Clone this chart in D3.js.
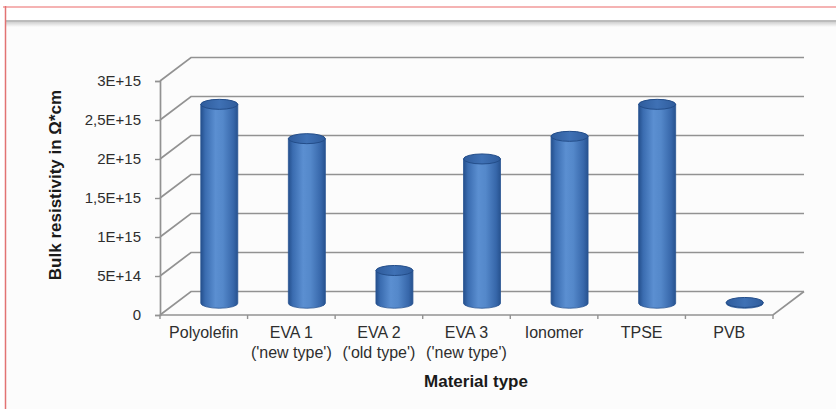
<!DOCTYPE html>
<html>
<head>
<meta charset="utf-8">
<script src="https://cdn.jsdelivr.net/npm/d3@7"></script>
<style>
  html, body { margin: 0; padding: 0; background: #ffffff; }
  svg { display: block; font-family: "Liberation Sans", Arial, sans-serif; }
</style>
</head>
<body>
<svg id="chart" width="836" height="409"></svg>
<script>
// Bulk resistivity per encapsulant material
const categories = ["Polyolefin", "EVA 1|('new type')", "EVA 2|('old type')", "EVA 3|('new type')", "Ionomer", "TPSE", "PVB"];
const resistivity = [2.55e15, 2.11e15, 0.42e15, 1.85e15, 2.14e15, 2.55e15, 0.01e15];
const tickValues = [0, 5e14, 1e15, 1.5e15, 2e15, 2.5e15, 3e15];
const tickLabels = ["0", "5E+14", "1E+15", "1,5E+15", "2E+15", "2,5E+15", "3E+15"];

const svg = d3.select("#chart");

// page frame
svg.append("rect").attr("x", 0).attr("y", 0).attr("width", 836).attr("height", 409).attr("fill", "#ffffff");
svg.append("rect").attr("x", 5).attr("y", 21).attr("width", 831).attr("height", 388).attr("fill", "#fcfcfc");
const defs = svg.append("defs");
const shade = defs.append("linearGradient").attr("id", "topShade").attr("x1", 0).attr("y1", 0).attr("x2", 0).attr("y2", 1);
shade.append("stop").attr("offset", 0).attr("stop-color", "#d0d0d0");
shade.append("stop").attr("offset", 1).attr("stop-color", "#fcfcfc");
svg.append("rect").attr("x", 5).attr("y", 22).attr("width", 831).attr("height", 5).attr("fill", "url(#topShade)");
svg.append("line").attr("x1", 5).attr("x2", 836).attr("y1", 21).attr("y2", 21).attr("stroke", "#a6a6a6").attr("stroke-width", 1.5);
svg.append("line").attr("x1", 3).attr("x2", 836).attr("y1", 7).attr("y2", 7).attr("stroke", "#f29a9a").attr("stroke-width", 1.5);
svg.append("line").attr("x1", 5.5).attr("x2", 5.5).attr("y1", 6).attr("y2", 409).attr("stroke", "#e27373").attr("stroke-width", 1.5);

// 3D box geometry
const dx = 31, dy = -23.5;
const x = d3.scaleBand().domain(categories).range([160, 773]).padding(0);
const y = d3.scaleLinear().domain([0, 3e15]).range([315, 81]);

const gridColor = "#929292";
const grid = svg.append("g").attr("fill", "none").attr("stroke", gridColor).attr("stroke-width", 1.7);

// back wall and side wall gridlines
tickValues.forEach(t => {
  const yy = y(t);
  grid.append("path")
    .attr("d", `M${x.range()[0]},${yy} L${x.range()[0] + dx},${yy + dy} L${x.range()[1] + dx},${yy + dy}`);
});
// floor front edge and right edge
grid.append("path")
  .attr("d", `M${x.range()[0]},${y(0)} L${x.range()[1]},${y(0)} L${x.range()[1] + dx},${y(0) + dy}`);

// value axis
const yAxis = d3.axisLeft(y).tickValues(tickValues).tickSize(5).tickPadding(14)
  .tickFormat((d, i) => tickLabels[i]);
const gy = svg.append("g").attr("transform", `translate(${x.range()[0]},0)`).call(yAxis);
gy.select(".domain").attr("stroke", gridColor).attr("stroke-width", 1.7);
gy.selectAll(".tick line").attr("stroke", gridColor).attr("stroke-width", 1.4);
gy.selectAll(".tick text").attr("font-size", 15).attr("fill", "#2e2e2e")
  .attr("font-family", "Liberation Sans, Arial, sans-serif");

// category axis ticks
const gx = svg.append("g");
x.domain().concat(["end"]).forEach((c, i) => {
  const xx = x.range()[0] + i * x.bandwidth();
  gx.append("line").attr("x1", xx).attr("x2", xx).attr("y1", y(0)).attr("y2", y(0) + 4)
    .attr("stroke", gridColor).attr("stroke-width", 1.4);
});
categories.forEach(c => {
  const lines = c.split("|");
  const t = gx.append("text")
    .attr("x", x(c) + x.bandwidth() / 2)
    .attr("y", 338)
    .attr("text-anchor", "middle")
    .attr("font-size", 16)
    .attr("fill", "#2e2e2e");
  lines.forEach((ln, k) => {
    t.append("tspan").attr("x", x(c) + x.bandwidth() / 2).attr("dy", k === 0 ? 0 : 20).text(ln);
  });
});

// cylinder shading
const body = defs.append("linearGradient").attr("id", "cylBody").attr("x1", 0).attr("y1", 0).attr("x2", 1).attr("y2", 0);
[[0, "#244f8c"], [0.12, "#3a6cb0"], [0.4, "#5b8fd1"], [0.6, "#5488ca"], [0.88, "#3767aa"], [1, "#27528f"]]
  .forEach(([o, c]) => body.append("stop").attr("offset", o).attr("stop-color", c));
const cap = defs.append("linearGradient").attr("id", "cylCap").attr("x1", 0).attr("y1", 0).attr("x2", 1).attr("y2", 0);
[[0, "#2f5c9c"], [0.5, "#3f71b5"], [1, "#2f5c9c"]]
  .forEach(([o, c]) => cap.append("stop").attr("offset", o).attr("stop-color", c));

const rx = 18.5, ry = 5;
const bars = svg.append("g");
categories.forEach((c, i) => {
  const v = resistivity[i];
  const cx = x(c) + x.bandwidth() / 2 + dx / 2;
  const yb = y(0) + dy / 2;
  const yt = y(v) + dy / 2;
  const g = bars.append("g");
  g.append("path")
    .attr("d", `M${cx - rx},${yt} L${cx - rx},${yb} A${rx},${ry} 0 0 0 ${cx + rx},${yb} L${cx + rx},${yt} Z`)
    .attr("fill", "url(#cylBody)")
    .attr("stroke", "#2a5593").attr("stroke-width", 0.8);
  g.append("ellipse")
    .attr("cx", cx).attr("cy", yt).attr("rx", rx).attr("ry", ry)
    .attr("fill", "url(#cylCap)")
    .attr("stroke", "#234d89").attr("stroke-width", 1);
});

// axis titles
svg.append("text")
  .attr("transform", `translate(61,185) rotate(-90)`)
  .attr("text-anchor", "middle")
  .attr("font-size", 17).attr("font-weight", "bold").attr("fill", "#1a1a1a")
  .text("Bulk resistivity in Ω*cm");
svg.append("text")
  .attr("x", 476).attr("y", 387)
  .attr("text-anchor", "middle")
  .attr("font-size", 17).attr("font-weight", "bold").attr("fill", "#1a1a1a")
  .text("Material type");
</script>
</body>
</html>
